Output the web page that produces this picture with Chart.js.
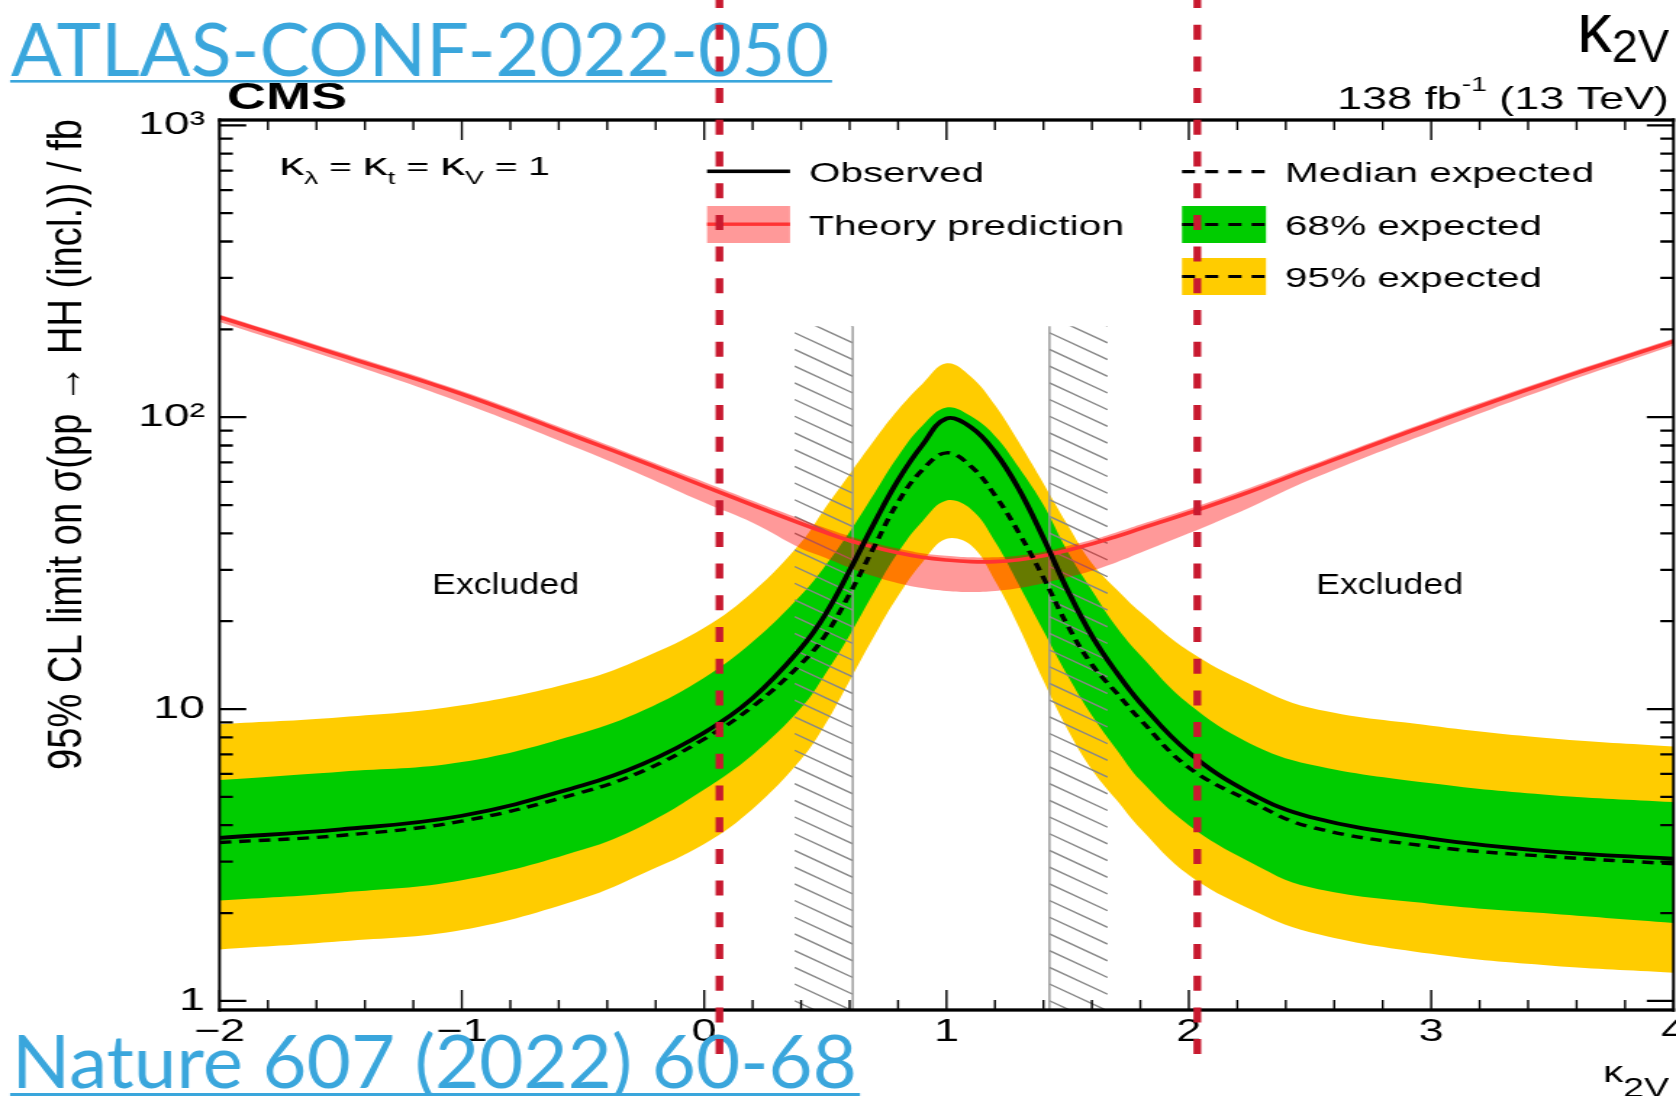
<!DOCTYPE html>
<html>
<head>
<meta charset="utf-8">
<script src="https://cdn.jsdelivr.net/npm/chart.js@4.4.1/dist/chart.umd.min.js"></script>
<style>
  html, body { margin: 0; padding: 0; background: #fff; overflow: hidden; }
  #plot { position: absolute; left: 0; top: 0; }
</style>
</head>
<body>
<!-- the reference plot is stretched sideways, so the canvas is drawn narrow and widened by css -->
<canvas id="plot" width="1156" height="1096" style="width:1676px;height:1096px"></canvas>
<script>
// kappa_2V scan points
const kappa2V = [-2, -1.5, -1, -0.5, -0.25, 0, 0.2, 0.4, 0.5, 0.6, 0.7, 0.8, 0.9, 1.0, 1.1, 1.2, 1.3, 1.4, 1.5, 1.6, 1.7, 1.8, 2.0, 2.25, 2.5, 3, 3.5, 4];

// 95% CL limits on sigma(pp -> HH) in fb
const observedLimit = [3.62, 3.87, 4.31, 5.48, 6.5, 8.3, 10.9, 16.2, 21.1, 29.8, 43.1, 60.8, 80.2, 99, 92.5, 76, 56.4, 38.5, 25.5, 17.8, 13.4, 10.5, 7.1, 5.17, 4.27, 3.6, 3.25, 3.07];
const expectedLimit = [3.49, 3.69, 4.13, 5.2, 6.15, 7.9, 10.2, 14.3, 17.9, 24.8, 35.8, 51.2, 65.9, 75.5, 68, 54, 40, 28.2, 19.3, 14.2, 11.4, 9.2, 6.3, 4.85, 3.95, 3.38, 3.12, 2.95];
const band68Up = [5.71, 6.1, 6.58, 8.3, 9.9, 12.8, 17, 24.6, 31, 40.4, 54.5, 73.5, 93.5, 108, 101, 86.3, 67, 50, 34.6, 25.5, 19.2, 15.3, 10.4, 7.64, 6.46, 5.57, 5.07, 4.8];
const band68Down = [2.21, 2.35, 2.59, 3.3, 4.0, 5.3, 6.98, 10.1, 13.2, 17.9, 25.1, 34.4, 43.9, 51.8, 48.5, 37.5, 26.5, 18.5, 13, 9.5, 7.3, 5.7, 4.0, 3.0, 2.45, 2.15, 1.99, 1.85];
const band95Up = [8.87, 9.37, 10.3, 12.6, 15.0, 19, 25.2, 37.3, 49, 63.8, 83, 106, 130, 153, 138, 110, 81.7, 59.3, 42.7, 31.6, 25.8, 21.5, 15.8, 12.2, 10.1, 8.77, 7.93, 7.44];
const band95Down = [1.50, 1.60, 1.75, 2.25, 2.74, 3.45, 4.55, 6.73, 8.87, 12.5, 17.7, 24.4, 31.8, 38.3, 36.5, 27.5, 19, 12.5, 8.5, 6.2, 4.9, 3.9, 2.7, 2.07, 1.72, 1.45, 1.32, 1.25];

// theory prediction and its band
const theoryXsec = [220, 163, 120, 84, 70, 58, 50, 43.2, 40.3, 37.8, 35.9, 34.3, 33.1, 32.4, 32, 32, 32.5, 33.5, 35, 36.8, 39, 41.5, 47, 55.5, 66.6, 95, 133, 182];
const theoryUp = [225, 167, 123, 86.5, 72, 60, 51.7, 44.7, 41.7, 39.1, 37.1, 35.5, 34.2, 33.5, 33.1, 33.1, 33.6, 34.6, 36.2, 38, 40.3, 42.9, 48.5, 57.2, 68.4, 97.5, 136, 186];
const theoryDown = [212, 156, 112, 77, 63, 51, 43.5, 35.5, 33, 30.5, 28.5, 27, 26, 25.4, 25.2, 25.4, 26, 27, 28.3, 29.8, 31.8, 34.3, 40, 49, 61, 89, 127, 176];

// observed kappa_2V limits: CMS (grey hatched) and ATLAS (red dashed)
const cmsKappaLimits = [0.613, 1.425];
const atlasKappaLimits = [0.063, 2.035];

const yTickValues = [1, 10, 100, 1000];
const yTickLabels = ['1', '10', '10\u00b2', '10\u00b3'];

const S = 1676 / 1156;
const FONT = '"Liberation Sans", Arial, Helvetica, sans-serif';
const LINK_FONT = 'Lato, "Open Sans", sans-serif';
const LINK_BLUE = 'rgb(58,166,220)';
const px = x => x / S;   // reference pixel -> canvas pixel (horizontal)

function pts(arr) {
  return kappa2V.map((k, i) => ({ x: k, y: arr[i] }));
}

function curve(arr, extra) {
  return Object.assign({
    data: pts(arr), pointRadius: 0, borderWidth: 0, borderColor: 'transparent',
    tension: 0.4, fill: false
  }, extra);
}

// draws a run of text pieces squeezed/stretched to a width measured on the reference
function fitText(ctx, parts, xRef, base, widthRef, color) {
  let total = 0;
  parts.forEach(p => {
    ctx.font = (p.weight || 'normal') + ' ' + p.size + 'px ' + (p.family || FONT);
    p.w = ctx.measureText(p.text).width;
    total += p.w;
  });
  ctx.save();
  ctx.translate(px(xRef), base);
  ctx.scale(px(widthRef) / total, 1);
  ctx.fillStyle = color || '#000';
  ctx.textAlign = 'left';
  ctx.textBaseline = 'alphabetic';
  let x = 0;
  parts.forEach(p => {
    ctx.font = (p.weight || 'normal') + ' ' + p.size + 'px ' + (p.family || FONT);
    ctx.fillText(p.text, x, p.dy || 0);
    x += p.w;
  });
  ctx.restore();
}

function dashedLine(ctx, x0, x1, y, width) {
  ctx.save();
  ctx.strokeStyle = '#000';
  ctx.lineWidth = width;
  ctx.setLineDash([9, 7]);
  ctx.beginPath();
  ctx.moveTo(x0, y);
  ctx.lineTo(x1, y);
  ctx.stroke();
  ctx.restore();
}

const hatchPlugin = {
  id: 'hatch',
  afterDatasetDraw(chart, args) {
    if (args.index !== 2) return;
    const ctx = chart.ctx, xs = chart.scales.x, ys = chart.scales.y;
    const top = ys.getPixelForValue(205), bottom = chart.chartArea.bottom;
    const w = 0.24;
    const regions = [
      [cmsKappaLimits[0] - w, cmsKappaLimits[0], cmsKappaLimits[0]],
      [cmsKappaLimits[1], cmsKappaLimits[1] + w, cmsKappaLimits[1]]
    ];
    regions.forEach(([a, b, edge]) => {
      const xa = xs.getPixelForValue(a), xb = xs.getPixelForValue(b);
      ctx.save();
      ctx.beginPath();
      ctx.rect(xa, top, xb - xa, bottom - top);
      ctx.clip();
      ctx.strokeStyle = 'rgb(135,135,135)';
      ctx.lineWidth = 1.4;
      const slope = 0.67, step = 16.7, span = xb - xa;
      ctx.beginPath();
      for (let y = top - slope * span; y < bottom + step; y += step) {
        ctx.moveTo(xa, y);
        ctx.lineTo(xb, y + slope * span);
      }
      ctx.stroke();
      ctx.restore();
      const xe = xs.getPixelForValue(edge);
      ctx.save();
      ctx.strokeStyle = 'rgb(150,150,150)';
      ctx.lineWidth = 1.4;
      ctx.beginPath();
      ctx.moveTo(xe, top);
      ctx.lineTo(xe, bottom);
      ctx.stroke();
      ctx.restore();
    });
  }
};

const framePlugin = {
  id: 'frame',
  afterDatasetsDraw(chart) {
    const ctx = chart.ctx, a = chart.chartArea, xs = chart.scales.x, ys = chart.scales.y;
    ctx.save();
    ctx.strokeStyle = '#000';
    // x ticks, top and bottom, pointing inwards
    ctx.lineWidth = 1.4;
    ctx.beginPath();
    for (let i = -10; i <= 20; i++) {
      const x = xs.getPixelForValue(i / 5);
      const len = i % 5 === 0 ? 20 : 10;
      ctx.moveTo(x, a.bottom); ctx.lineTo(x, a.bottom - len);
      ctx.moveTo(x, a.top); ctx.lineTo(x, a.top + len);
    }
    ctx.stroke();
    // y ticks, left and right
    ctx.lineWidth = 2.3;
    ctx.beginPath();
    yTickValues.forEach(d => {
      for (let m = 1; m <= 9; m++) {
        const v = m * d;
        if (v < ys.min || v > ys.max) continue;
        const y = ys.getPixelForValue(v);
        const len = m === 1 ? px(26.7) : px(13.3);
        ctx.moveTo(a.left, y); ctx.lineTo(a.left + len, y);
        ctx.moveTo(a.right, y); ctx.lineTo(a.right - len, y);
      }
    });
    ctx.stroke();
    // frame
    ctx.fillStyle = '#000';
    const h = 3.3, v = px(2.8);
    ctx.fillRect(a.left - v / 2, a.top - h / 2, a.right - a.left + v, h);
    ctx.fillRect(a.left - v / 2, a.bottom - h / 2, a.right - a.left + v, h);
    ctx.fillRect(a.left - v / 2, a.top - h / 2, v, a.bottom - a.top + h);
    ctx.fillRect(a.right - v / 2, a.top - h / 2, v, a.bottom - a.top + h);
    ctx.restore();
  }
};

const labelPlugin = {
  id: 'labels',
  afterDraw(chart) {
    const ctx = chart.ctx, xs = chart.scales.x;

    // legend symbols
    const L1 = px(707), R1 = px(790), L2 = px(1182), R2 = px(1266);
    ctx.save();
    ctx.fillStyle = '#000';
    ctx.fillRect(L1, 169.5, R1 - L1, 3.6);
    ctx.fillStyle = 'rgba(255,0,0,0.4)';
    ctx.fillRect(L1, 206, R1 - L1, 37);
    ctx.fillStyle = '#ff3333';
    ctx.fillRect(L1, 222.5, R1 - L1, 3.4);
    ctx.fillStyle = '#00cc00';
    ctx.fillRect(L2, 206, R2 - L2, 37);
    ctx.fillStyle = '#ffcc00';
    ctx.fillRect(L2, 258, R2 - L2, 37);
    ctx.restore();
    dashedLine(ctx, L2, R2, 171.7, 3.2);
    dashedLine(ctx, L2, R2, 224.5, 3.2);
    dashedLine(ctx, L2, R2, 276.5, 3.2);

    fitText(ctx, [{ text: 'Observed', size: 28 }], 809, 182, 175);
    fitText(ctx, [{ text: 'Theory prediction', size: 28 }], 809, 235, 315);
    fitText(ctx, [{ text: 'Median expected', size: 28 }], 1285, 182, 309);
    fitText(ctx, [{ text: '68% expected', size: 28 }], 1285, 235, 257);
    fitText(ctx, [{ text: '95% expected', size: 28 }], 1285, 287, 257);

    fitText(ctx, [
      { text: '\u03ba', size: 32 }, { text: '\u03bb', size: 18, dy: 9 },
      { text: ' = ', size: 25 }, { text: '\u03ba', size: 32 }, { text: 't', size: 18, dy: 9 },
      { text: ' = ', size: 25 }, { text: '\u03ba', size: 32 }, { text: 'V', size: 18, dy: 9 },
      { text: ' = 1', size: 25 }
    ], 279, 175, 271);

    fitText(ctx, [{ text: 'Excluded', size: 29 }], 432, 594, 147);
    fitText(ctx, [{ text: 'Excluded', size: 29 }], 1316, 594, 147);

    fitText(ctx, [{ text: 'CMS', size: 36, weight: 'bold' }], 227, 109, 120);
    fitText(ctx, [
      { text: '138 fb', size: 32 }, { text: '-1', size: 20, dy: -18 }, { text: ' (13 TeV)', size: 32 }
    ], 1337, 109, 332);
    fitText(ctx, [{ text: '\u03ba', size: 70 }, { text: '2V', size: 47, dy: 10 }], 1577, 52, 92);
    fitText(ctx, [{ text: '\u03ba', size: 29 }, { text: '2V', size: 27, dy: 15 }], 1603, 1082, 66);

    // y axis title, not stretched along its length
    const title = '95% CL limit on \u03c3(pp \u2192 HH (incl.)) / fb';
    ctx.save();
    ctx.font = '48px ' + FONT;
    const tw = ctx.measureText(title).width;
    ctx.translate(px(81), 770);
    ctx.rotate(-Math.PI / 2);
    ctx.scale(651 / tw, 1 / S);
    ctx.fillStyle = '#000';
    ctx.textAlign = 'left';
    ctx.textBaseline = 'alphabetic';
    ctx.fillText(title, 0, 0);
    ctx.restore();

    // reference links
    fitText(ctx, [{ text: 'ATLAS-CONF-2022-050', size: 74, family: LINK_FONT }], 11, 76, 818, LINK_BLUE);
    fitText(ctx, [{ text: 'Nature 607 (2022) 60-68', size: 74, family: LINK_FONT }], 12, 1088, 845, LINK_BLUE);
    ctx.save();
    ctx.fillStyle = LINK_BLUE;
    ctx.fillRect(px(10), 80, px(822), 2.6);
    ctx.fillRect(px(10), 1093, px(850), 3);
    ctx.restore();

    // ATLAS kappa_2V limits
    ctx.save();
    ctx.strokeStyle = '#c8192f';
    ctx.lineWidth = px(7.7);
    ctx.setLineDash([15, 16.7]);
    ctx.lineDashOffset = 7;
    atlasKappaLimits.forEach(k => {
      const x = xs.getPixelForValue(k);
      ctx.beginPath();
      ctx.moveTo(x, 0);
      ctx.lineTo(x, 1062);
      ctx.stroke();
    });
    ctx.restore();
  }
};

new Chart(document.getElementById('plot'), {
  type: 'line',
  data: {
    datasets: [
      curve(band95Up, { fill: 1, backgroundColor: '#ffcc00', order: 9 }),
      curve(band95Down, { order: 10 }),
      curve(band68Up, { fill: 3, backgroundColor: '#00cc00', order: 7 }),
      curve(band68Down, { order: 8 }),
      curve(theoryUp, { fill: 5, backgroundColor: 'rgba(255,0,0,0.4)', order: 5 }),
      curve(theoryDown, { order: 6 }),
      curve(theoryXsec, { borderWidth: 3.6, borderColor: '#ff3333', order: 4 }),
      curve(expectedLimit, { borderWidth: 3.4, borderColor: '#000', borderDash: [8, 5.5], order: 3 }),
      curve(observedLimit, { borderWidth: 3.8, borderColor: '#000', order: 2 })
    ]
  },
  options: {
    responsive: false,
    devicePixelRatio: 1,
    animation: false,
    events: [],
    layout: { autoPadding: false, padding: { left: 0, top: 120, right: 1156 - px(1673.5), bottom: 0 } },
    plugins: { legend: { display: false }, tooltip: { enabled: false } },
    scales: {
      x: {
        type: 'linear', min: -2, max: 4,
        grid: { display: false, drawTicks: false },
        border: { display: false },
        ticks: {
          stepSize: 1, autoSkip: false, maxRotation: 0, padding: 4, color: '#000',
          font: { family: FONT, size: 31 },
          callback: v => (v < 0 ? '\u2212' + Math.abs(v) : String(v))
        },
        afterFit: s => { s.height = 1096 - 1010; s.paddingLeft = 0; s.paddingRight = 0; }
      },
      y: {
        type: 'logarithmic', min: 0.931, max: 1043,
        grid: { display: false, drawTicks: false },
        border: { display: false },
        afterBuildTicks: s => { s.ticks = yTickValues.map(v => ({ value: v })); },
        ticks: {
          autoSkip: false, padding: 10, color: '#000',
          font: { family: FONT, size: 32 },
          callback: v => yTickLabels[yTickValues.indexOf(v)]
        },
        afterFit: s => { s.width = px(219.5); s.paddingTop = 0; s.paddingBottom = 0; }
      }
    }
  },
  plugins: [hatchPlugin, framePlugin, labelPlugin]
});
</script>
</body>
</html>
